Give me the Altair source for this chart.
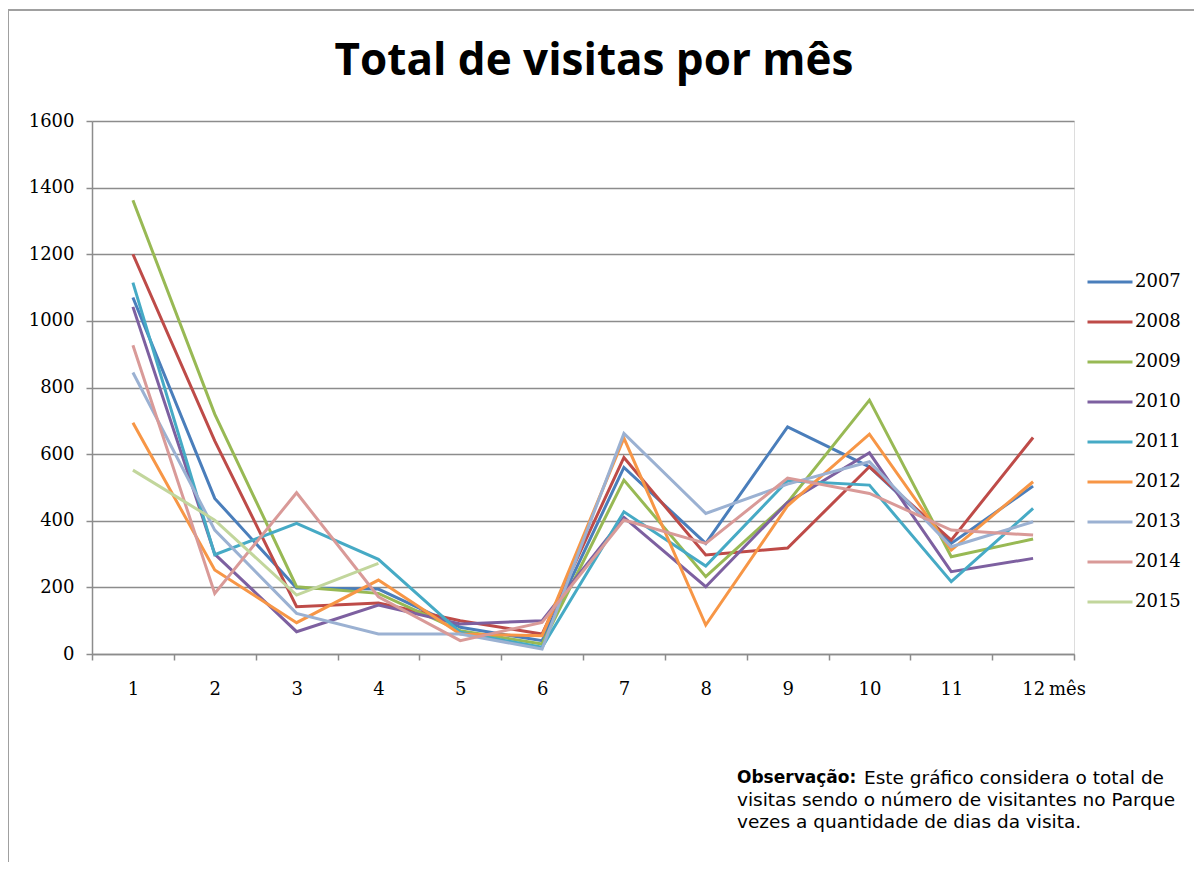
import altair as alt
import pandas as pd

# ---------------- data ----------------
months = list(range(1, 13))
years = ["2007", "2008", "2009", "2010", "2011", "2012", "2013", "2014", "2015"]

v2007 = [1070, 467, 198, 195, 80, 40, 560, 332, 682, 562, 332, 504]
v2008 = [1200, 640, 142, 153, 100, 60, 590, 297, 318, 562, 342, 650]
v2009 = [1362, 720, 202, 182, 70, 30, 522, 232, 455, 762, 292, 345]
v2010 = [1042, 300, 67, 147, 90, 100, 410, 202, 455, 604, 247, 287]
v2011 = [1115, 298, 392, 284, 65, 20, 427, 264, 520, 507, 217, 437]
v2012 = [694, 252, 94, 222, 60, 55, 648, 87, 445, 660, 312, 517]
v2013 = [845, 372, 122, 60, 60, 15, 662, 422, 510, 577, 322, 397]
v2014 = [927, 182, 484, 172, 40, 95, 402, 332, 528, 482, 372, 357]
v2015 = [552, 402, 177, 272]

series = [v2007, v2008, v2009, v2010, v2011, v2012, v2013, v2014, v2015]
colors = ["#4a7ebb", "#be4b48", "#98b954", "#7d60a0", "#46aac5",
          "#f79646", "#9bb1d2", "#d99a98", "#c2d69c"]

title_text = "Total de visitas por mês"
x_unit = "mês"
note_bold = "Observação:"
note_lines = [
    "Este gráfico considera o  total de",
    "visitas  sendo o número de visitantes no Parque",
    "vezes a quantidade de dias da visita.",
]

rows = []
for yr, vals in zip(years, series):
    for m, v in zip(months, vals):
        rows.append({"mes": m, "ano": yr, "visitas": v})
df = pd.DataFrame(rows)

W, H = 982, 533
SERIF = "DejaVu Serif"
SANS = "Open Sans"
NOTE = "DejaVu Sans"

x_ticks = [m - 0.5 for m in months] + [months[-1] + 0.5]

lines = alt.Chart(df).mark_line(strokeWidth=3).encode(
    x=alt.X(
        "mes:Q",
        scale=alt.Scale(domain=[0.5, 12.5], nice=False, zero=False),
        axis=alt.Axis(
            values=x_ticks,
            labelExpr="datum.value < 12 ? format(datum.value + 0.5, 'd') : ''",
            labelOffset=41,
            labelFlush=False,
            labelFont=SERIF,
            labelFontSize=18,
            labelColor="#000000",
            labelPadding=20,
            tickSize=6,
            tickColor="#8c8c8c",
            tickWidth=1.5,
            domainColor="#8c8c8c",
            domainWidth=1.5,
            grid=False,
            title=None,
        ),
    ),
    y=alt.Y(
        "visitas:Q",
        scale=alt.Scale(domain=[0, 1600], nice=False),
        axis=alt.Axis(
            values=list(range(0, 1601, 200)),
            format="d",
            labelFont=SERIF,
            labelFontSize=18,
            labelColor="#000000",
            labelPadding=12,
            tickSize=6,
            tickColor="#8c8c8c",
            tickWidth=1.5,
            domainColor="#8c8c8c",
            domainWidth=1.5,
            grid=True,
            gridColor="#8c8c8c",
            gridWidth=1.5,
            title=None,
        ),
    ),
    color=alt.Color(
        "ano:N",
        scale=alt.Scale(domain=years, range=colors),
        legend=alt.Legend(
            title=None,
            orient="none",
            legendX=1009,
            legendY=152,
            symbolType="M-5,0H5",
            symbolSize=81,
            symbolStrokeWidth=3,
            labelFont=SERIF,
            labelFontSize=18,
            labelColor="#000000",
            labelOffset=16,
            rowPadding=22,
        ),
    ),
    order=alt.Order("mes:Q"),
)

one = pd.DataFrame({"t": [title_text]})
title = alt.Chart(one).mark_text(
    font=SANS, fontSize=44, fontWeight="bold", align="center", baseline="middle", color="#000000"
).encode(text="t:N", x=alt.value(502), y=alt.value(-59))

unit = alt.Chart(pd.DataFrame({"t": [x_unit]})).mark_text(
    font=SERIF, fontSize=18, align="left", baseline="middle", color="#000000"
).encode(text="t:N", x=alt.value(957), y=alt.value(H + 36))

note_b = alt.Chart(pd.DataFrame({"t": [note_bold]})).mark_text(
    font=NOTE, fontSize=17, fontWeight="bold", align="left", baseline="middle", color="#000000"
).encode(text="t:N", x=alt.value(645), y=alt.value(657))

note_df = pd.DataFrame({
    "t": note_lines,
    "px": [772, 645, 645],
    "py": [657, 679, 701],
})
note = alt.Chart(note_df).mark_text(
    font=NOTE, fontSize=18.5, align="left", baseline="middle", color="#000000"
).encode(
    text="t:N",
    x=alt.X("px:Q", scale=None),
    y=alt.Y("py:Q", scale=None),
)

border = alt.Chart(pd.DataFrame({"a": [0]})).mark_rect(
    filled=False, stroke="#a0a0a0", strokeWidth=2
).encode(x=alt.value(-84), x2=alt.value(1106), y=alt.value(-111), y2=alt.value(760))

chart = alt.layer(border, lines, title, unit, note_b, note).properties(
    width=W,
    height=H,
    autosize=alt.AutoSizeParams(type="none"),
    padding={"left": 84, "top": 113, "right": 120, "bottom": 208},
).configure_view(stroke=None).configure(background="#ffffff")

chart.save("out.html", embed_options={"renderer": "svg", "actions": False})
